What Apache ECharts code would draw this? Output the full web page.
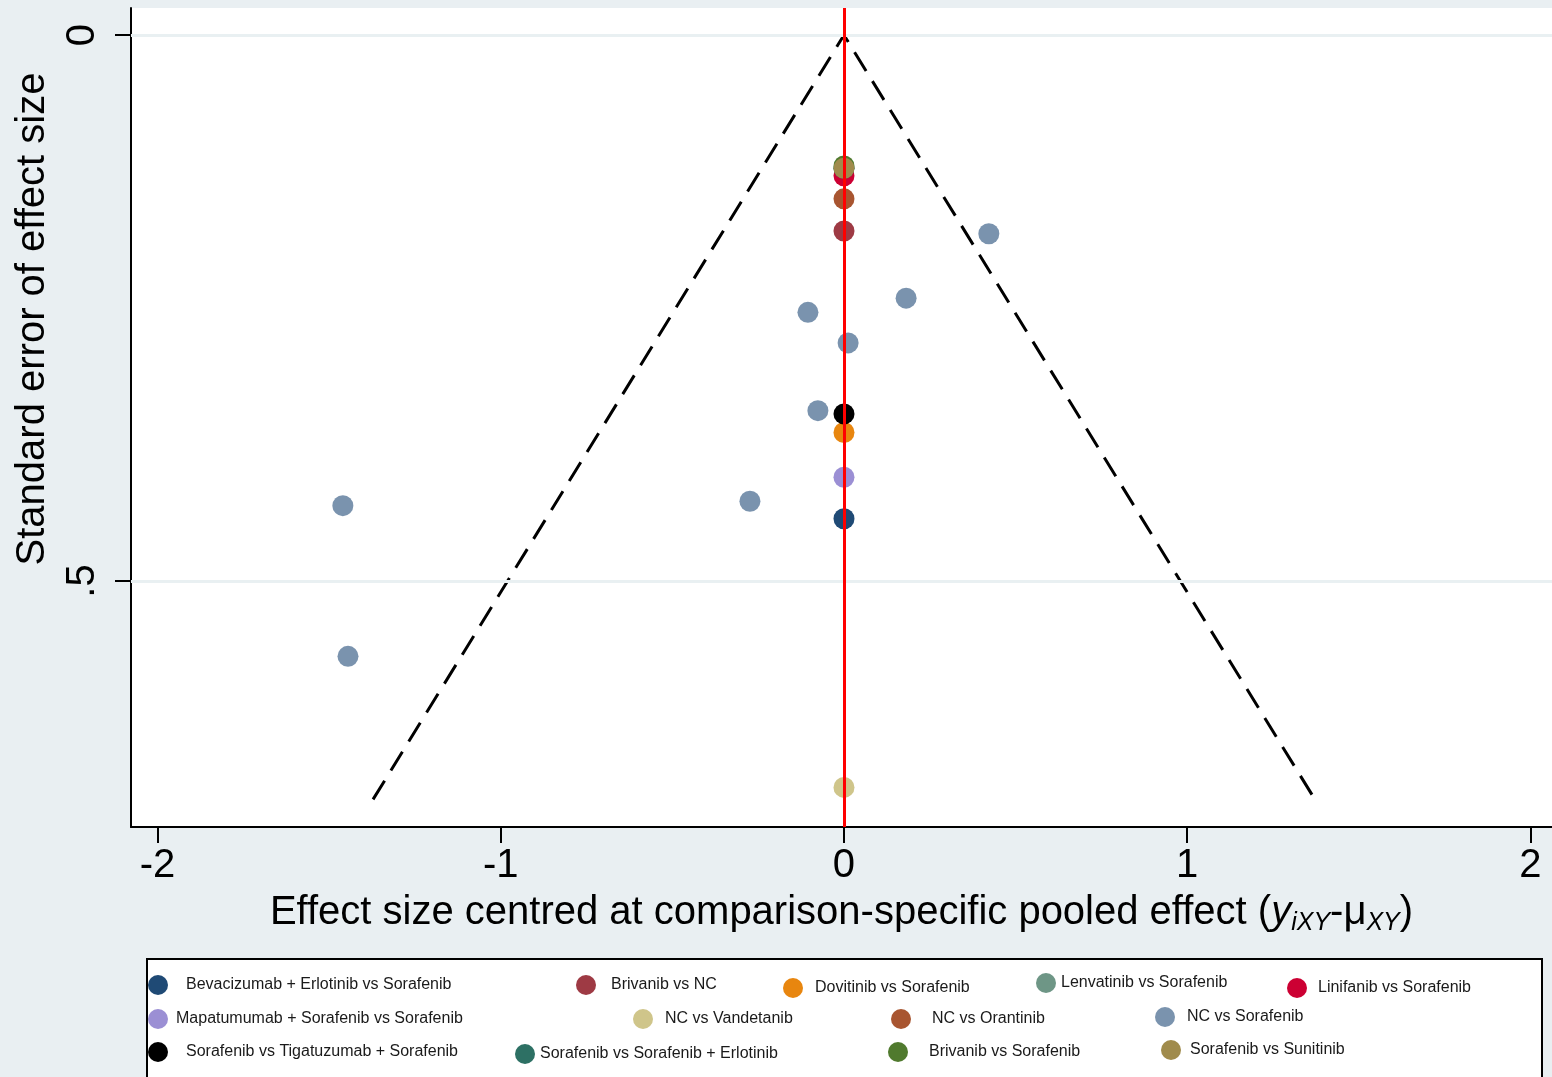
<!DOCTYPE html>
<html><head><meta charset="utf-8">
<script src="https://cdn.jsdelivr.net/npm/echarts@6/dist/echarts.min.js"></script>
<style>html,body{margin:0;padding:0;background:#E9EFF2}#c{width:1552px;height:1077px}</style>
</head><body><div id="c"></div>
<script>
// ---- data ----
const comparisons = [
  'Bevacizumab + Erlotinib vs Sorafenib', 'Brivanib vs NC', 'Dovitinib vs Sorafenib',
  'Lenvatinib vs Sorafenib', 'Linifanib vs Sorafenib', 'Mapatumumab + Sorafenib vs Sorafenib',
  'NC vs Vandetanib', 'NC vs Orantinib', 'NC vs Sorafenib',
  'Sorafenib vs Tigatuzumab + Sorafenib', 'Sorafenib vs Sorafenib + Erlotinib',
  'Brivanib vs Sorafenib', 'Sorafenib vs Sunitinib'
];
// effect size centred at comparison-specific pooled effect, per comparison
const centredEffect = [
  [0], [0], [0], [0], [0], [0], [0], [0],
  [0.422, 0.181, -0.105, 0.012, -0.076, -0.274, -1.460, -1.445],
  [0], [0], [0], [0]
];
// standard error of effect size, per comparison
const standardError = [
  [0.443], [0.1795], [0.364], [0.122], [0.129], [0.405], [0.689], [0.150],
  [0.182, 0.241, 0.254, 0.282, 0.344, 0.427, 0.431, 0.569],
  [0.347], [0.122], [0.120], [0.122]
];
const xTicks = [-2, -1, 0, 1, 2];
const yTicks = [0, 0.5];
const yTickLabels = ['0', '.5'];
const funnelMaxSE = 0.7;
const zCrit = 1.96;

// ---- styles / layout ----
const colors = ['#1F4A75', '#9E3A44', '#E8860F', '#6E9686', '#CC0033', '#9B8FD4',
  '#CFC58A', '#A85530', '#7A93AE', '#000000', '#2D7064', '#507A2E', '#A08B4C'];
// [icon centre x, icon centre y, text start x]
const legendLayout = [
  [158, 985, 186], [586, 985, 611], [793, 988, 815], [1046, 983, 1060], [1297, 988, 1318],
  [158, 1019, 176], [643, 1019, 665], [901, 1019, 932], [1165, 1017, 1187],
  [158, 1052, 186], [525, 1054, 539], [898, 1052, 929], [1171, 1050, 1190]
];
const FONT = '"Liberation Sans", Arial, sans-serif';

const chart = echarts.init(document.getElementById('c'), null, {renderer: 'canvas'});

const series = [{
  type: 'line',
  name: 'funnel',
  z: 1,
  data: [[-zCrit * funnelMaxSE, funnelMaxSE], [0, 0], [zCrit * funnelMaxSE, funnelMaxSE]],
  symbol: 'none',
  lineStyle: {color: '#000', width: 3, type: [22, 12]},
  silent: true,
  markLine: {
    silent: true, symbol: 'none', label: {show: false},
    data: [
      {yAxis: 0, lineStyle: {color: '#E9F0F2', width: 3, type: 'solid'}},
      {yAxis: 0.5, lineStyle: {color: '#E9F0F2', width: 3, type: 'solid'}},
      {xAxis: 0, lineStyle: {color: '#FF0000', width: 3, type: 'solid'}}
    ]
  }
}];
comparisons.forEach((name, i) => {
  series.push({
    type: 'scatter', name: name, z: 3,
    symbol: 'circle', symbolSize: 21,
    itemStyle: {color: colors[i], opacity: 1},
    data: centredEffect[i].map((x, j) => [x, standardError[i][j]])
  });
});

const legends = comparisons.map((name, i) => {
  const [cx, cy, tx] = legendLayout[i];
  const pad = Math.max(0, tx - cx - 15);
  return {
    data: [{name: name, icon: 'circle'}],
    left: cx - 10, top: cy - 10, padding: 0,
    itemWidth: 20, itemHeight: 20, selectedMode: false,
    textStyle: {fontSize: 16, fontFamily: FONT, color: '#1a1a1a', padding: [0, 0, 0, pad]}
  };
});

chart.setOption({
  backgroundColor: '#E9EFF2',
  animation: false,
  color: colors,
  grid: {left: 131, right: 0, top: 8, bottom: 250, show: true, backgroundColor: '#fff', borderWidth: 0},
  xAxis: {
    type: 'value', min: -2.0772, max: 2.0627,
    name: '{a|Effect size centred at comparison-specific pooled effect (}{i|y}{s|iXY}{a|-μ}{s|XY}{a|)}',
    nameLocation: 'middle', nameGap: 63,
    nameTextStyle: {
      fontSize: 40, fontFamily: FONT, color: '#000',
      rich: {
        a: {fontSize: 40, fontFamily: FONT, color: '#000', lineHeight: 46},
        i: {fontSize: 40, fontFamily: FONT, color: '#000', fontStyle: 'italic', lineHeight: 46},
        s: {fontSize: 25, fontFamily: FONT, color: '#000', fontStyle: 'italic', lineHeight: 28, verticalAlign: 'bottom'}
      }
    },
    axisLine: {show: true, onZero: false, lineStyle: {color: '#000', width: 2}},
    axisTick: {show: true, length: 16, customValues: xTicks, lineStyle: {color: '#000', width: 2}},
    axisLabel: {customValues: xTicks, fontSize: 40, fontFamily: FONT, color: '#000', margin: 19},
    splitLine: {show: false}
  },
  yAxis: {
    type: 'value', inverse: true, min: -0.02473, max: 0.72527,
    axisLine: {show: true, onZero: false, lineStyle: {color: '#000', width: 2}},
    axisTick: {show: true, length: 16, customValues: yTicks, lineStyle: {color: '#000', width: 2}},
    axisLabel: {
      customValues: yTicks, rotate: 90, fontSize: 40, fontFamily: FONT, color: '#000', margin: 28,
      formatter: v => yTickLabels[yTicks.indexOf(v)] ?? String(v)
    },
    splitLine: {show: false}
  },
  legend: legends,
  graphic: [
    {type: 'rect', z: -1, shape: {x: 147, y: 959, width: 1395, height: 140},
      style: {fill: '#fff', stroke: '#000', lineWidth: 2}},
    {type: 'text', x: 33, y: 319, rotation: Math.PI / 2,
      style: {text: 'Standard error of effect size', font: '40px ' + FONT, fill: '#000',
        align: 'center', verticalAlign: 'middle', textAlign: 'center', textVerticalAlign: 'middle'}}
  ],
  series: series
});
</script></body></html>
